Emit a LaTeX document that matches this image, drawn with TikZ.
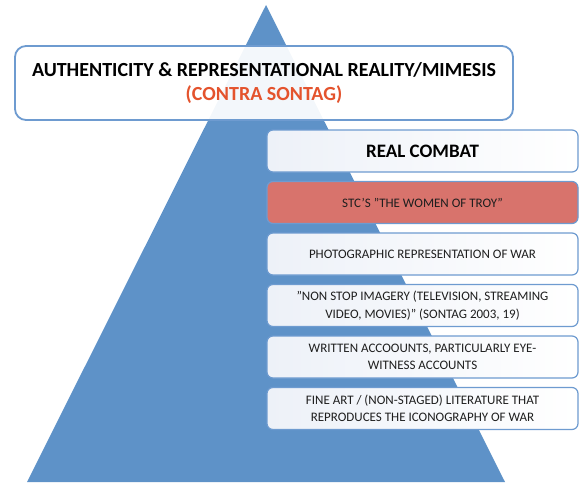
\documentclass[tikz,border=0pt]{standalone}
\usepackage{fontspec}
\setmainfont{Carlito}
\definecolor{pyrblue}{HTML}{5E92C8}
\definecolor{edgeblue}{HTML}{6E9BD0}
\definecolor{boxfill}{HTML}{EDF1F8}
\definecolor{redfill}{HTML}{D8736C}
\definecolor{redtext}{HTML}{E4532D}
\definecolor{bodytext}{HTML}{1E1E1E}
\tikzset{
  pyramid/.style={fill=pyrblue},
  headbox/.style={draw=edgeblue, line width=1.8pt, rounded corners=11pt,
    fill=white, fill opacity=0.93, text opacity=1,
    minimum width=498pt, minimum height=74pt, align=center,
    font=\fontsize{20}{24}\selectfont\bfseries},
  tier/.style={draw=edgeblue, line width=1.2pt, rounded corners=6pt,
    left color=boxfill, right color=white, text=bodytext,
    minimum width=311pt, minimum height=42pt, align=center,
    font=\fontsize{13}{17.5}\selectfont, inner sep=2pt},
  tierred/.style={tier, left color=redfill, right color=redfill, fill=redfill}
}
\begin{document}
\begin{tikzpicture}[x=1pt,y=-1pt]
  \useasboundingbox (0,0) rectangle (581,482);
  % the pyramid behind the labels
  \coordinate (apex) at (266,5);
  \coordinate (baseL) at (27,482);
  \coordinate (baseR) at (505,482);
  \fill[pyramid] (apex) -- (baseR) -- (baseL) -- cycle;
  % heading across the top of the pyramid
  \node[headbox] (head) at (264,83)
    {AUTHENTICITY \& REPRESENTATIONAL REALITY/MIMESIS\\
     \textcolor{redtext}{(CONTRA SONTAG)}};
  % tiers on the right
  \node[tier, font=\fontsize{19}{21}\selectfont\bfseries, text=black] (t1) at (422.5,151) {REAL COMBAT};
  \node[tierred] (t2) at (422.5,202.5) {STC'S ''THE WOMEN OF TROY''};
  \node[tier] (t3) at (422.5,254) {PHOTOGRAPHIC REPRESENTATION OF WAR};
  \node[tier] (t4) at (422.5,305.5) {''NON STOP IMAGERY (TELEVISION, STREAMING\\VIDEO, MOVIES)'' (SONTAG 2003, 19)};
  \node[tier] (t5) at (422.5,357) {WRITTEN ACCOOUNTS, PARTICULARLY EYE-\\WITNESS ACCOUNTS};
  \node[tier] (t6) at (422.5,408.5) {FINE ART / (NON-STAGED) LITERATURE THAT\\REPRODUCES THE ICONOGRAPHY OF WAR};
\end{tikzpicture}
\end{document}
